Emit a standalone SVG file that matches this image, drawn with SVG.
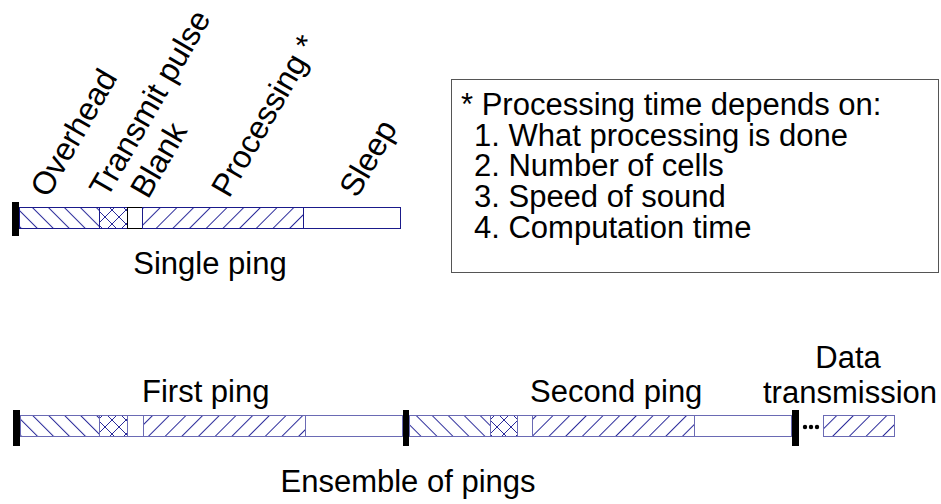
<svg xmlns="http://www.w3.org/2000/svg" width="941" height="504" viewBox="0 0 941 504">
<style>
text{font-family:"Liberation Sans",Arial,sans-serif;font-size:31px;fill:#000}
.rot{font-size:32px}
.seg{stroke:#1a1a8a;stroke-width:1}
.segb{stroke:#6a6ab4;stroke-width:1}
.bar{fill:#000}
</style>
<defs>
<pattern id="bs" patternUnits="userSpaceOnUse" width="11.3" height="11.3" patternTransform="rotate(-45)">
<rect width="11.3" height="11.3" fill="#fff"/>
<line x1="0.5" y1="0" x2="0.5" y2="11.3" stroke="#2a2a9a" stroke-width="1"/>
</pattern>
<pattern id="fs" patternUnits="userSpaceOnUse" width="11.8" height="11.8" patternTransform="rotate(45)">
<rect width="11.8" height="11.8" fill="#fff"/>
<line x1="0.5" y1="0" x2="0.5" y2="11.8" stroke="#2a2a9a" stroke-width="1"/>
</pattern>
<pattern id="xs" patternUnits="userSpaceOnUse" width="14" height="14">
<rect width="14" height="14" fill="#fff"/>
<path d="M0,0 L14,14 M14,0 L0,14" stroke="#2a2a9a" stroke-width="1" fill="none"/>
</pattern>
</defs>
<rect width="941" height="504" fill="#fff"/>

<g id="labels-single">
<text class="rot" transform="translate(48,199) rotate(-60)">Overhead</text>
<text class="rot" transform="translate(107,199) rotate(-60)">Transmit pulse</text>
<text class="rot" transform="translate(148,200) rotate(-60)">Blank</text>
<text class="rot" transform="translate(229,199) rotate(-60)">Processing *</text>
<text class="rot" transform="translate(357,199) rotate(-60)">Sleep</text>
</g>

<g id="single-ping">
<rect class="seg" x="19.5" y="207.5" width="80" height="21" fill="url(#bs)"/>
<rect class="seg" x="99.5" y="207.5" width="28" height="21" fill="url(#xs)"/>
<rect x="127.5" y="207.5" width="15" height="21" fill="#fff" stroke="#000" stroke-width="1"/>
<rect class="seg" x="142.5" y="207.5" width="161" height="21" fill="url(#fs)"/>
<rect class="seg" x="303.5" y="207.5" width="97" height="21" fill="#fff"/>
<rect class="bar" x="12" y="202" width="7" height="34"/>
<text x="210" y="274" text-anchor="middle">Single ping</text>
</g>

<g id="legend">
<rect x="451.5" y="79.5" width="487" height="193" fill="#fff" stroke="#555" stroke-width="1"/>
<text x="461" y="115">* Processing time depends on:</text>
<text x="474" y="146">1. What processing is done</text>
<text x="474" y="176">2. Number of cells</text>
<text x="474" y="207">3. Speed of sound</text>
<text x="474" y="238">4. Computation time</text>
</g>

<g id="first-ping">
<rect class="segb" x="20.5" y="415.5" width="79" height="21" fill="url(#bs)"/>
<rect class="segb" x="99.5" y="415.5" width="28" height="21" fill="url(#xs)"/>
<rect class="segb" x="127.5" y="415.5" width="16" height="21" fill="#fff"/>
<rect class="segb" x="143.5" y="415.5" width="162" height="21" fill="url(#fs)"/>
<rect class="segb" x="305.5" y="415.5" width="97" height="21" fill="#fff"/>
<rect class="bar" x="13" y="410" width="7" height="36"/>
<text x="142" y="402">First ping</text>
</g>

<g id="second-ping">
<rect class="segb" x="409.5" y="415.5" width="81" height="21" fill="url(#bs)"/>
<rect class="segb" x="490.5" y="415.5" width="27" height="21" fill="url(#xs)"/>
<rect class="segb" x="517.5" y="415.5" width="15" height="21" fill="#fff"/>
<rect class="segb" x="532.5" y="415.5" width="162" height="21" fill="url(#fs)"/>
<rect class="segb" x="694.5" y="415.5" width="97" height="21" fill="#fff"/>
<rect class="bar" x="403" y="410" width="6" height="36"/>
<text x="530" y="402">Second ping</text>
</g>

<g id="data-transmission">
<rect class="bar" x="792" y="410" width="7" height="36"/>
<circle cx="805" cy="427" r="2.2" fill="#000"/>
<circle cx="811" cy="427" r="2.2" fill="#000"/>
<circle cx="817" cy="427" r="2.2" fill="#000"/>
<rect class="segb" x="823.5" y="415.5" width="71" height="21" fill="url(#fs)"/>
<text x="848" y="368" text-anchor="middle">Data</text>
<text x="850" y="403" text-anchor="middle">transmission</text>
</g>

<g id="connectors"></g>

<text x="408" y="492" text-anchor="middle">Ensemble of pings</text>
</svg>
